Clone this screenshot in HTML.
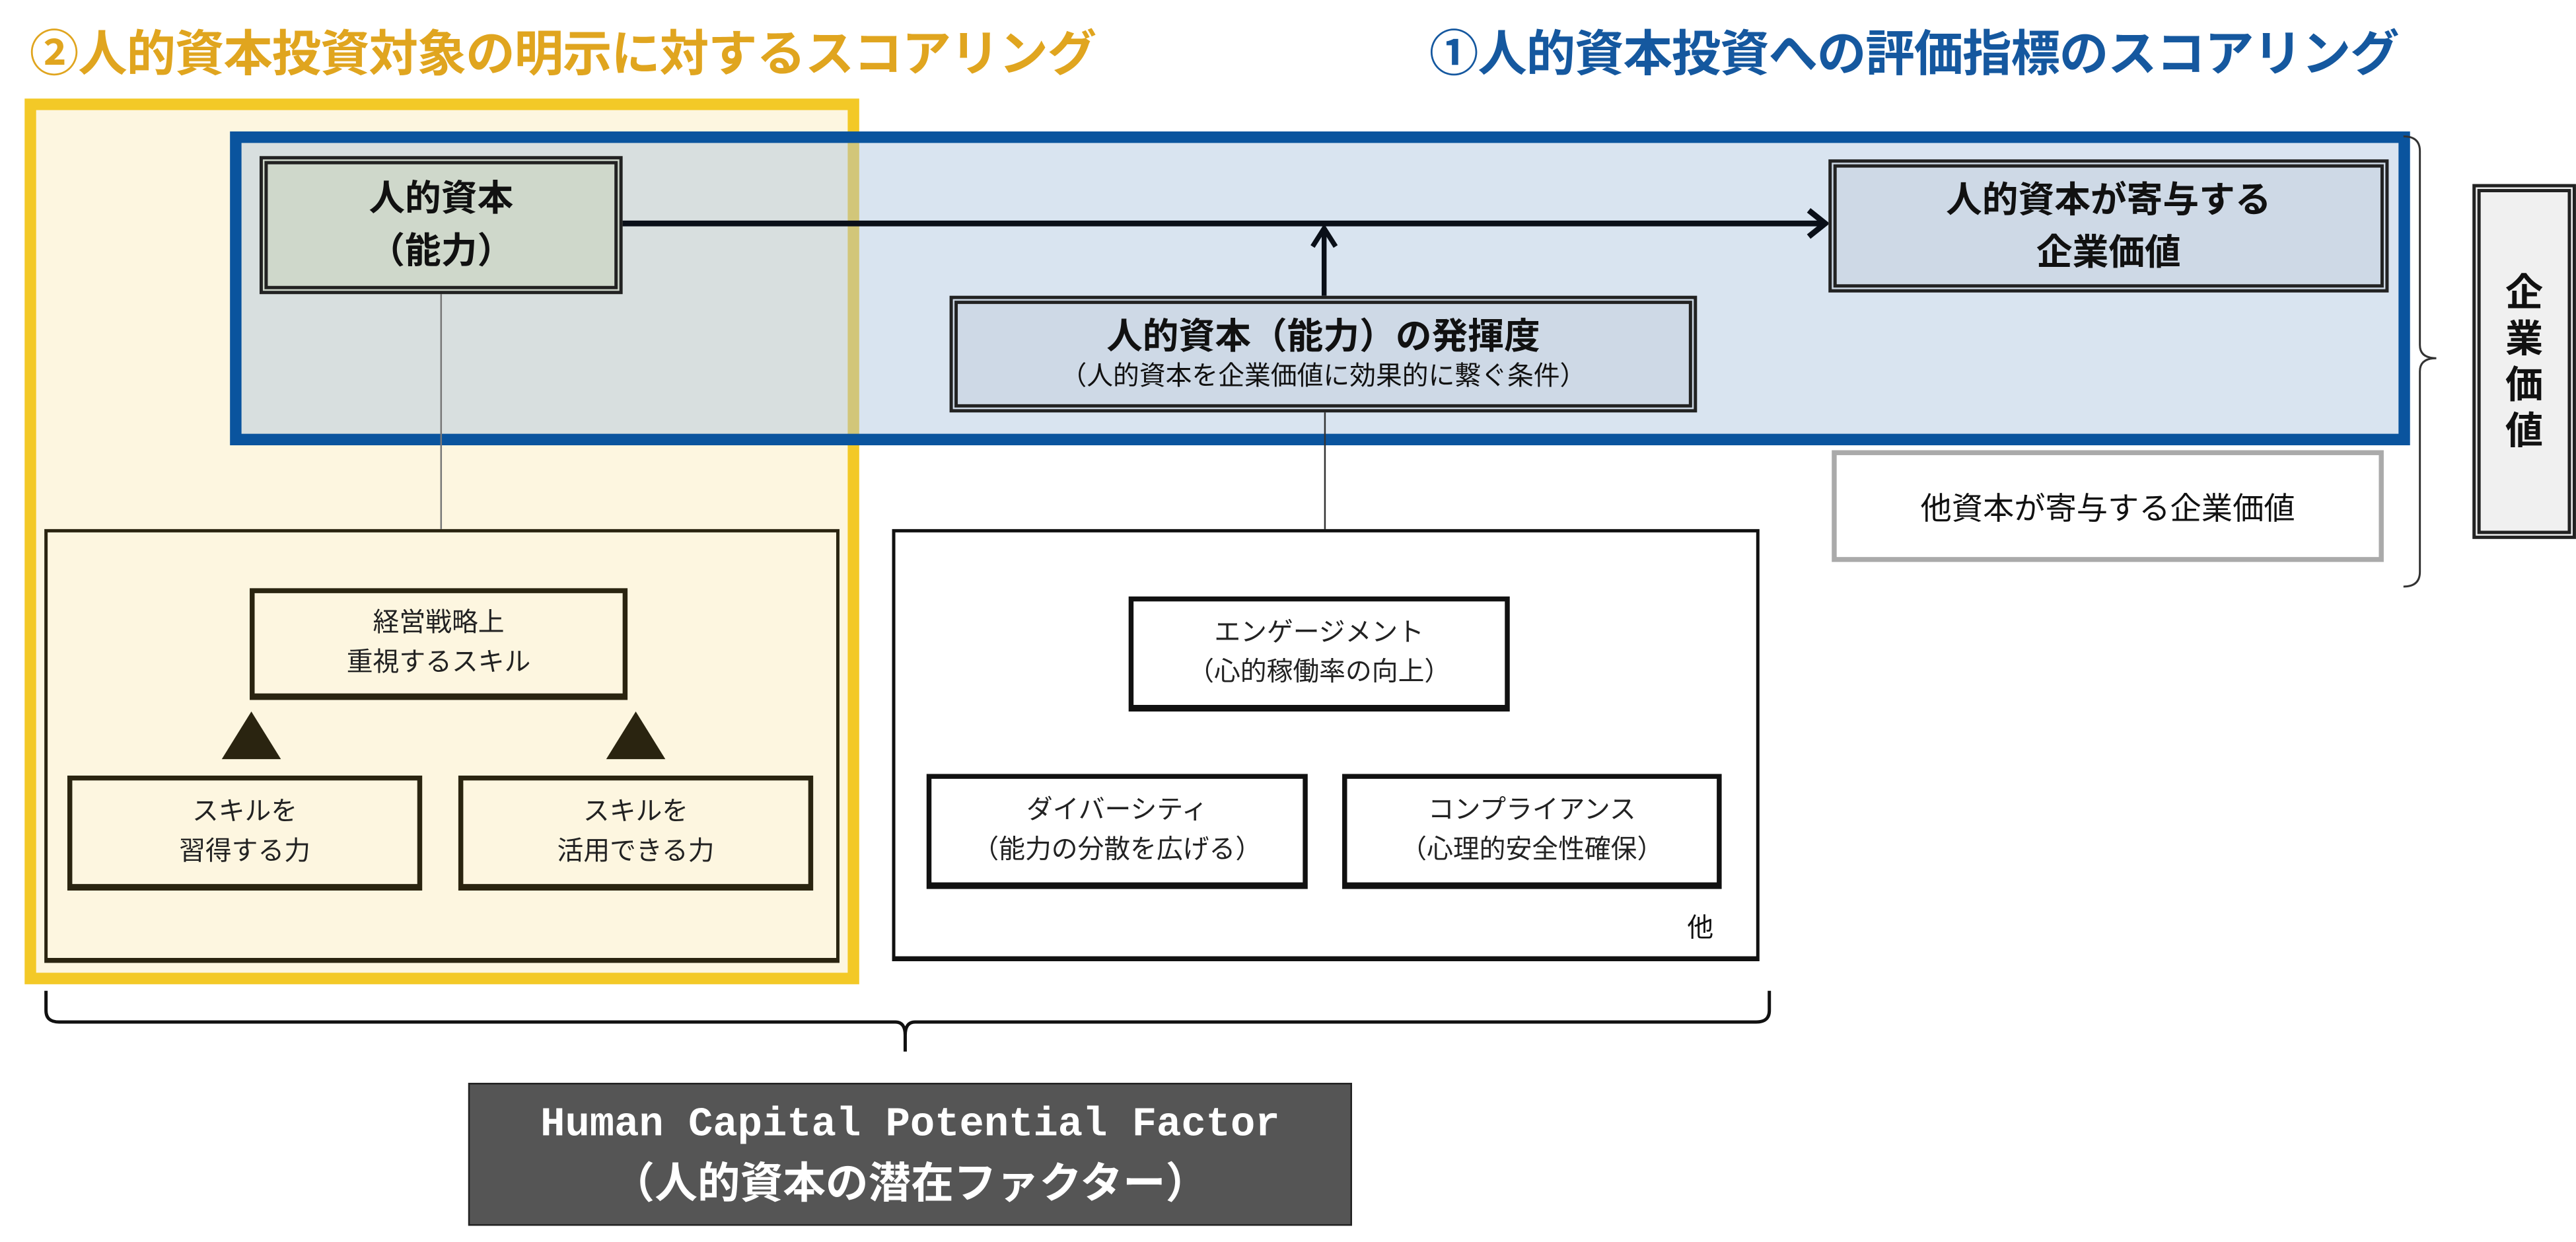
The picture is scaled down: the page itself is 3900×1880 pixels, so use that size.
<!DOCTYPE html>
<html><head><meta charset="utf-8"><style>
html,body{margin:0;padding:0;background:#fff;width:3900px;height:1880px;overflow:hidden}
#c{position:absolute;left:0;top:0;width:1568px;height:756px;transform:scale(2.4872);transform-origin:0 0;font-family:"Liberation Sans","Noto Sans CJK JP",sans-serif;color:#111}
.a{position:absolute;box-sizing:border-box}
.t{display:flex;flex-direction:column;align-items:center;justify-content:center;text-align:center}
.dbl{border:5px double #222}
.sm{font-size:16px;line-height:24px;color:#222}
.bx{border:3px solid #2a2410;border-bottom-width:4px;border-right-width:3px}
</style></head><body><div id="c">
<div class="a" style="left:18px;top:8px;font-size:30px;font-weight:bold;color:#e0a51f;white-space:nowrap;letter-spacing:-0.5px">②人的資本投資対象の明示に対するスコアリング</div>
<div class="a" style="left:870px;top:8px;font-size:30px;font-weight:bold;color:#15589f;white-space:nowrap;letter-spacing:-0.5px">①人的資本投資への評価指標のスコアリング</div>

<div class="a" style="left:15px;top:60px;width:508px;height:539px;border:7px solid #f3c927;background:#fdf6e0"></div>
<div class="a" style="left:27px;top:322px;width:484px;height:264px;border:2px solid #2a2410;border-bottom-width:3px;background:#fdf6e0"></div>
<div class="a" style="left:543px;top:322px;width:528px;height:263px;border:2px solid #111;border-bottom-width:3px;background:#fff"></div>

<div class="a" style="left:140px;top:80px;width:1327px;height:191px;border:7px solid #0a549e;background:rgba(171,195,222,0.45)"></div>

<div class="a" style="left:267.5px;top:178px;width:1px;height:144px;background:#777"></div>
<div class="a" style="left:805.5px;top:250px;width:1px;height:72px;background:#333"></div>

<svg class="a" style="left:0;top:0" width="1568" height="756">
<line x1="376" y1="136" x2="1110" y2="136" stroke="#0a0f18" stroke-width="3.5"/>
<polyline points="1101,128 1111,136 1101,144" fill="none" stroke="#0a0f18" stroke-width="3.5"/>
<line x1="806" y1="180" x2="806" y2="140" stroke="#0a0f18" stroke-width="3"/>
<polyline points="799,150 806,139 813,150" fill="none" stroke="#0a0f18" stroke-width="3"/>
<polygon points="153,433 135,462 171,462" fill="#2a2410"/>
<polygon points="387,433 369,462 405,462" fill="#2a2410"/>
<path d="M1463,83 Q1473,83 1473,92 L1473,210 Q1473,218 1483,218 Q1473,218 1473,226 L1473,348 Q1473,357 1463,357" fill="none" stroke="#333" stroke-width="1.2"/>
<path d="M28,603 L28,615 Q28,622 36,622 L545,622 Q551,622 551,630 L551,640 M551,630 Q551,622 557,622 L1069,622 Q1077,622 1077,615 L1077,603" fill="none" stroke="#111" stroke-width="2"/>
</svg>

<div class="a t dbl" style="left:158px;top:95px;width:221px;height:84px;background:#cfd8cb;font-size:22px;font-weight:bold;line-height:32px">人的資本<br>（能力）</div>
<div class="a t dbl" style="left:578px;top:180px;width:455px;height:71px;background:#ced9e6"><div style="font-size:22px;font-weight:bold;line-height:28px">人的資本（能力）の発揮度</div><div style="font-size:16px;line-height:22px">（人的資本を企業価値に効果的に繋ぐ条件）</div></div>
<div class="a t dbl" style="left:1113px;top:97px;width:341px;height:81px;background:#ced9e6;font-size:22px;font-weight:bold;line-height:32px">人的資本が寄与する<br>企業価値</div>
<div class="a t" style="left:1115px;top:274px;width:336px;height:68px;border:3px solid #aaa;background:#fff;font-size:19px">他資本が寄与する企業価値</div>
<div class="a t dbl" style="left:1505px;top:112px;width:63px;height:216px;background:#f0f0f0;font-size:23px;font-weight:bold;line-height:28px">企<br>業<br>価<br>値</div>

<div class="a t bx sm" style="left:152px;top:358px;width:230px;height:68px">経営戦略上<br>重視するスキル</div>
<div class="a t bx sm" style="left:41px;top:472px;width:216px;height:70px">スキルを<br>習得する力</div>
<div class="a t bx sm" style="left:279px;top:472px;width:216px;height:70px">スキルを<br>活用できる力</div>

<div class="a t bx sm" style="left:687px;top:363px;width:232px;height:70px;border-color:#111;background:#fff">エンゲージメント<br>（心的稼働率の向上）</div>
<div class="a t bx sm" style="left:564px;top:471px;width:232px;height:70px;border-color:#111;background:#fff">ダイバーシティ<br>（能力の分散を広げる）</div>
<div class="a t bx sm" style="left:817px;top:471px;width:231px;height:70px;border-color:#111;background:#fff">コンプライアンス<br>（心理的安全性確保）</div>
<div class="a" style="left:1027px;top:551px;font-size:16px">他</div>

<div class="a t" style="left:285px;top:659px;width:538px;height:87px;background:#555;border:1px solid #222;color:#fff"><div style="font-family:'Liberation Mono',monospace;font-size:25px;line-height:34px;font-weight:bold">Human Capital Potential Factor</div><div style="font-size:26px;line-height:36px;font-weight:bold">（人的資本の潜在ファクター）</div></div>
</div></body></html>
